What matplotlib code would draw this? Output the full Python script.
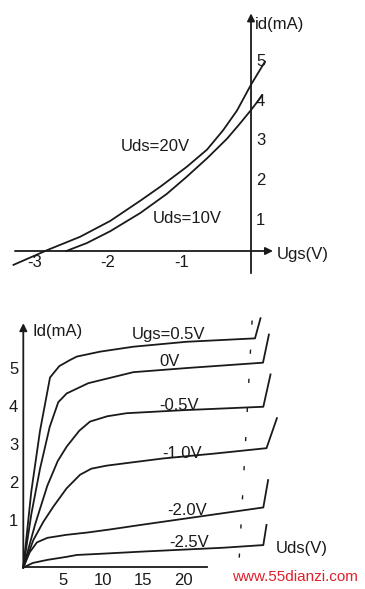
import matplotlib.pyplot as plt

plt.rcParams['font.family'] = ['Liberation Sans', 'DejaVu Sans']

# --- transfer characteristic (top) ---
ugs_20 = [-3.24, -2.77, -2.33, -1.92, -1.51, -1.24, -0.88, -0.60, -0.38, -0.19, 0.0, 0.19]
id_20 = [-0.35, 0.03, 0.36, 0.76, 1.27, 1.62, 2.12, 2.56, 3.05, 3.55, 4.2, 4.78]
ugs_10 = [-2.52, -2.24, -1.92, -1.51, -1.15, -0.88, -0.60, -0.33, -0.15, 0.0, 0.15]
id_10 = [0.0, 0.2, 0.5, 0.96, 1.44, 1.87, 2.34, 2.83, 3.22, 3.56, 3.92]
ugs_ticks = [-3, -2, -1]
id_ticks_top = [1, 2, 3, 4, 5]

# --- output characteristics (bottom) ---
curves = {
    'Ugs=0.5V': ([0, 1.0, 2.09, 3.34, 4.5, 5.84, 6.68, 9.59, 13.75, 20.4, 28.96, 29.65],
                 [0, 2.0, 3.6, 5.0, 5.3, 5.46, 5.55, 5.68, 5.81, 5.94, 6.03, 6.56]),
    '0V': ([0, 1.0, 2.09, 3.3, 4.37, 5.42, 8.12, 13.75, 20.5, 29.96, 30.7],
           [0, 1.4, 2.6, 3.7, 4.35, 4.58, 4.85, 5.14, 5.25, 5.39, 6.13]),
    '-0.5V': ([0, 1.5, 3.0, 4.3, 5.42, 7.0, 8.34, 10.5, 12.9, 20.0, 30.0, 30.9],
              [0, 1.15, 2.15, 2.8, 3.18, 3.6, 3.84, 3.98, 4.06, 4.14, 4.23, 5.08]),
    '-1.0V': ([0, 1.25, 2.5, 3.75, 5.4, 7.09, 8.5, 10.4, 13.0, 17.5, 24.0, 30.4, 31.7],
              [0, 0.72, 1.2, 1.6, 2.08, 2.44, 2.6, 2.68, 2.75, 2.87, 3.0, 3.14, 3.93]),
    '-2.0V': ([0, 0.8, 1.7, 3.0, 5.4, 8.0, 10.8, 15.0, 20.0, 25.0, 30.0, 30.6],
              [0, 0.4, 0.66, 0.78, 0.86, 0.92, 1.0, 1.13, 1.28, 1.43, 1.58, 2.3]),
    '-2.5V': ([0, 1.2, 3.0, 5.4, 6.7, 9.6, 15.0, 20.0, 25.0, 30.0, 30.4],
              [0, 0.12, 0.2, 0.28, 0.33, 0.36, 0.42, 0.47, 0.52, 0.59, 1.12]),
}
label_pos = {
    'Ugs=0.5V': (18.15, 6.12),
    '0V': (18.3, 5.41),
    '-0.5V': (19.5, 4.25),
    '-1.0V': (19.9, 3.01),
    '-2.0V': (20.5, 1.51),
    '-2.5V': (20.7, 0.66),
}
uds_ticks = [5, 10, 15, 20]
id_ticks_bot = [1, 2, 3, 4, 5]

INK = '#1a1a1a'
LW = 1.3
FS = 12

fig = plt.figure(figsize=(3.65, 5.89), dpi=100)
ax1 = fig.add_axes([0, 294 / 589, 1, 295 / 589])
ax2 = fig.add_axes([0, 0, 1, 294 / 589])

arrow = dict(arrowstyle='-|>', lw=LW, color=INK, mutation_scale=11,
             shrinkA=0, shrinkB=0)

# top panel
ax1.set_xlim(-3.424, 1.555)
ax1.set_ylim(-1.111, 6.338)
ax1.axis('off')
ax1.annotate('', xy=(0.30, 0), xytext=(-3.22, 0), arrowprops=arrow)
ax1.annotate('', xy=(0, 6.0), xytext=(0, -0.56), arrowprops=arrow)
ax1.plot(ugs_20, id_20, color=INK, lw=LW)
ax1.plot(ugs_10, id_10, color=INK, lw=LW)
for v in ugs_ticks:
    ax1.text(v + 0.05, -0.28, str(v), ha='center', va='center', fontsize=FS, color=INK)
for v in id_ticks_top:
    ax1.text(0.13, v - 0.22, str(v), ha='center', va='center', fontsize=FS, color=INK)
ax1.text(0.05, 5.71, 'id(mA)', ha='left', va='center', fontsize=FS, color=INK)
ax1.text(0.355, -0.1, 'Ugs(V)', ha='left', va='center', fontsize=FS, color=INK)
ax1.text(-1.31, 2.63, 'Uds=20V', ha='center', va='center', fontsize=FS, color=INK)
ax1.text(-0.87, 0.83, 'Uds=10V', ha='center', va='center', fontsize=FS, color=INK)

# bottom panel
ax2.set_xlim(-2.9125, 42.71)
ax2.set_ylim(-0.566, 7.171)
ax2.axis('off')
ax2.plot([0, 23], [0, 0], color=INK, lw=LW)
ax2.annotate('', xy=(0, 6.43), xytext=(0, 0), arrowprops=arrow)
for name, (x, y) in curves.items():
    ax2.plot(x, y, color=INK, lw=LW)
    lx, ly = label_pos[name]
    ax2.text(lx, ly, name, ha='center', va='center', fontsize=FS, color=INK)
ax2.plot([28.6, 26.9], [6.5, -0.1], color=INK, lw=1.0, linestyle=(0, (3, 18)))
for v in uds_ticks:
    ax2.text(v, -0.33, str(v), ha='center', va='center', fontsize=FS, color=INK)
for v in id_ticks_bot:
    ax2.text(-1.2, v + 0.205, str(v), ha='center', va='center', fontsize=FS, color=INK)
ax2.text(1.2, 6.2, 'Id(mA)', ha='left', va='center', fontsize=FS, color=INK)
ax2.text(34.8, 0.51, 'Uds(V)', ha='center', va='center', fontsize=FS, color=INK)

fig.text(295 / 365, 12 / 589, 'www.55dianzi.com', ha='center', va='center',
         fontsize=11, color='#e0202a')

fig.savefig('out.png', dpi=100, facecolor='white')
